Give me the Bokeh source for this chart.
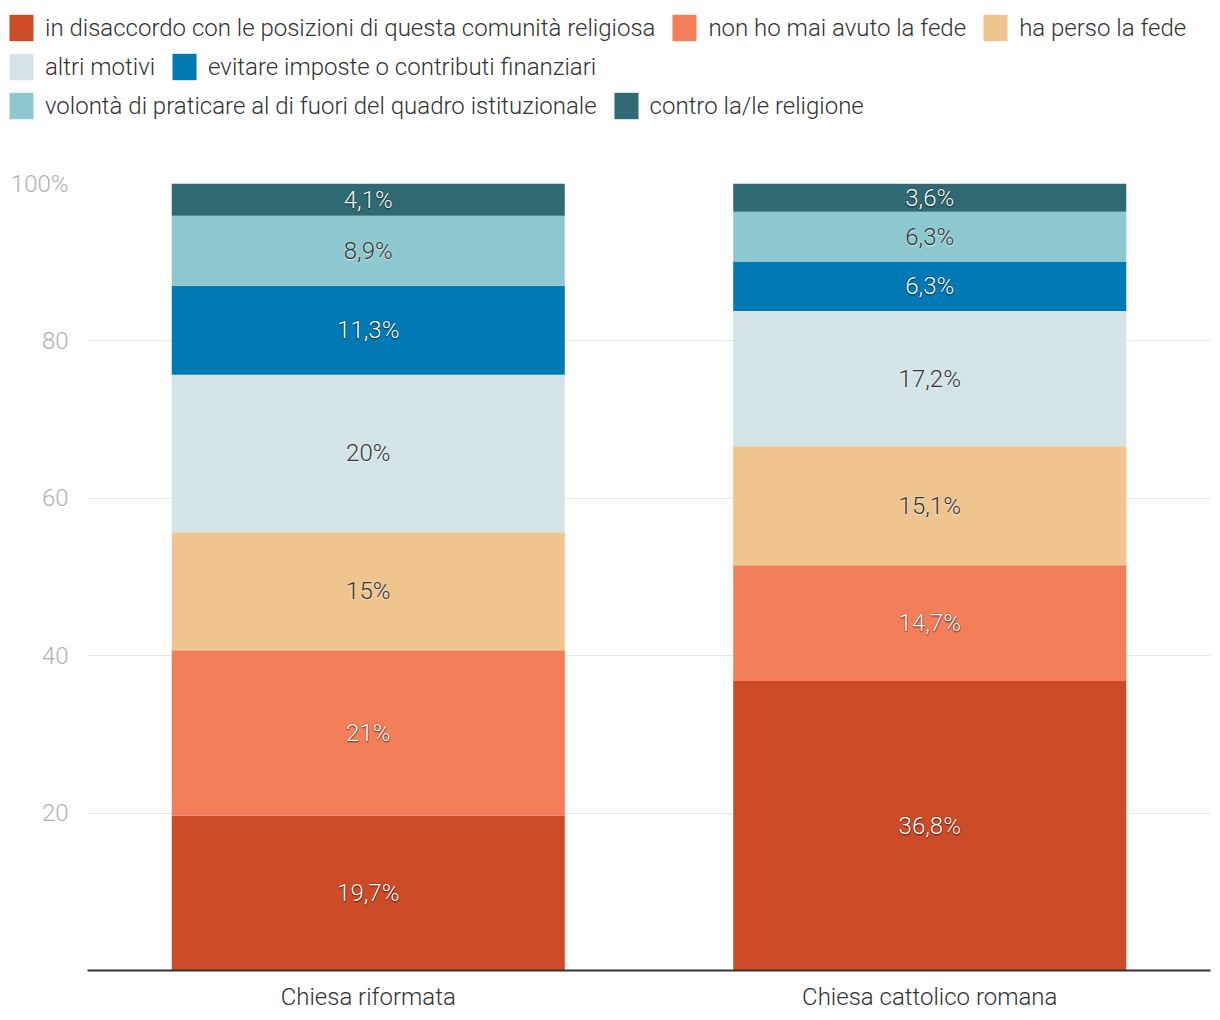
from bokeh.plotting import figure
from bokeh.layouts import column
from bokeh.models import ColumnDataSource, Legend, LegendItem, FixedTicker, FactorRange, Range1d, Plot
from bokeh.core.properties import value
from bokeh.embed import file_html
from bokeh.resources import INLINE

categories = ["Chiesa riformata", "Chiesa cattolico romana"]
series_names = [
    "in disaccordo con le posizioni di questa comunità religiosa",
    "non ho mai avuto la fede",
    "ha perso la fede",
    "altri motivi",
    "evitare imposte o contributi finanziari",
    "volontà di praticare al di fuori del quadro istituzionale",
    "contro la/le religione",
]
disaccordo = [19.7, 36.8]
mai_avuto_fede = [21.0, 14.7]
perso_fede = [15.0, 15.1]
altri_motivi = [20.0, 17.2]
evitare_imposte = [11.3, 6.3]
fuori_quadro = [8.9, 6.3]
contro_religione = [4.1, 3.6]
series_values = [disaccordo, mai_avuto_fede, perso_fede, altri_motivi,
                 evitare_imposte, fuori_quadro, contro_religione]
colors = ["#cd4c28", "#f37e5a", "#efc48f", "#d4e3e6", "#0079b5", "#8dc8d0", "#2f6a73"]
label_colors = ["#ffffff", "#ffffff", "#333333", "#333333", "#ffffff", "#333333", "#ffffff"]
y_ticks = [0, 20, 40, 60, 80, 100]
y_tick_labels = ["", "20", "40", "60", "80", "100%"]
legend_rows = [[0, 1, 2], [3, 4], [5, 6]]

FONT = "Roboto Light"
FS = "24px"

keys = [f"s{i}" for i in range(len(series_names))]
data = {"cat": categories}
for k, v in zip(keys, series_values):
    data[k] = v
source = ColumnDataSource(data)

HAS_FA = "frame_align" in Plot.properties()

# ---------- legend figure (top) ----------
LEG_H = 126
pl = figure(width=1220, height=LEG_H, x_range=Range1d(0, 1220), y_range=Range1d(0, LEG_H),
            min_border=0, toolbar_location=None, output_backend="svg",
            x_axis_location=None, y_axis_location=None)
pl.grid.visible = False
pl.outline_line_color = None
if HAS_FA:
    pl.frame_align = False
# zero-height swatch renderers (only used to draw the legend squares)
leg_renderers = [pl.vbar(x=[0], top=[0], bottom=[0], width=0, color=c, line_color=None) for c in colors]
row_bottoms = [82, 43, 4]
x_loc = 6 if HAS_FA else -81
for row, vy in zip(legend_rows, row_bottoms):
    items = [LegendItem(label=series_names[i], renderers=[leg_renderers[i]]) for i in row]
    leg = Legend(items=items, orientation="horizontal", location=(x_loc, vy),
                 glyph_width=30, glyph_height=33, label_height=29, padding=3, margin=0,
                 spacing=14, label_standoff=9,
                 label_text_font=FONT, label_text_font_size=FS, label_text_color="#333333",
                 border_line_color=None, background_fill_alpha=0)
    pl.add_layout(leg, "center")

# ---------- main chart ----------
p = figure(
    x_range=FactorRange(*categories, range_padding=0),
    y_range=Range1d(0, 100),
    width=1220, height=1020 - LEG_H,
    min_border_left=87, min_border_right=10, min_border_top=183 - LEG_H, min_border_bottom=50,
    toolbar_location=None, output_backend="svg",
)
p.outline_line_color = None
if HAS_FA:
    p.frame_align = False

renderers = p.vbar_stack(keys, x="cat", width=0.7, color=colors, line_color=None, source=source)

lab_x, lab_y, lab_text, lab_col, sh_col = [], [], [], [], []
for j, cat in enumerate(categories):
    bottom = 0.0
    for i, vals in enumerate(series_values):
        v = vals[j]
        lab_x.append(cat)
        lab_y.append(bottom + v / 2)
        lab_text.append(f"{v:g}".replace(".", ",") + "%")
        lab_col.append(label_colors[i])
        sh_col.append("#000000" if label_colors[i] == "#ffffff" else "#ffffff")
        bottom += v
lab_src = ColumnDataSource(dict(x=lab_x, y=lab_y, text=lab_text, col=lab_col, sh=sh_col))
for dx, dy in [(-1, 0), (1, 0), (0, -1), (0, 1), (0, 2), (-1, 1), (1, 1)]:
    p.text(x="x", y="y", text="text", source=lab_src, text_color="sh", text_alpha=0.18,
           text_align="center", text_baseline="middle", text_font=value(FONT),
           text_font_size=FS, x_offset=dx, y_offset=dy)
p.text(x="x", y="y", text="text", source=lab_src, text_color="col",
       text_align="center", text_baseline="middle", text_font=value(FONT),
       text_font_size=FS)

p.xgrid.grid_line_color = None
p.ygrid.grid_line_color = "#e6e6e6"
p.ygrid.grid_line_width = 1
p.yaxis.ticker = FixedTicker(ticks=y_ticks)
p.yaxis.major_label_overrides = {t: l for t, l in zip(y_ticks, y_tick_labels)}
p.yaxis.axis_line_color = None
p.yaxis.major_tick_line_color = None
p.yaxis.minor_tick_line_color = None
p.yaxis.major_label_standoff = 13
p.yaxis.major_label_text_color = "#b0b0b0"
p.yaxis.major_label_text_font = FONT
p.yaxis.major_label_text_font_size = FS

p.xaxis.axis_line_color = "#333333"
p.xaxis.axis_line_width = 2
p.xaxis.major_tick_line_color = None
p.xaxis.minor_tick_line_color = None
p.xaxis.major_label_standoff = 6
p.xaxis.major_label_text_color = "#333333"
p.xaxis.major_label_text_font = FONT
p.xaxis.major_label_text_font_size = FS

layout = column(pl, p, spacing=0)
open("out.html", "w").write(file_html(layout, INLINE))
